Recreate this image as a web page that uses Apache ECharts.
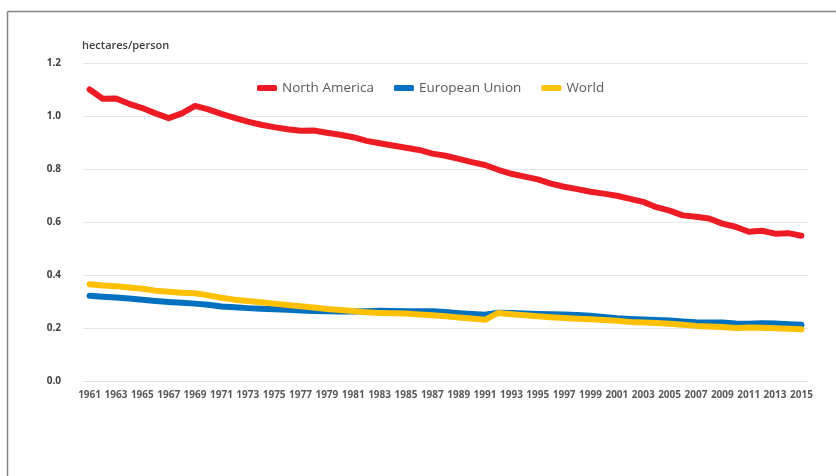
<!DOCTYPE html>
<html>
<head>
<meta charset="utf-8">
<script src="https://cdn.jsdelivr.net/npm/echarts@6/dist/echarts.min.js"></script>
<style>
  html, body { margin: 0; padding: 0; background: #fff; }
  #chart { width: 836px; height: 476px; }
</style>
</head>
<body>
<div id="chart"></div>
<script>
const years = []
for (let y = 1961; y <= 2015; y++) years.push(String(y))

const northAmerica = [
  1.100, 1.065, 1.066, 1.046, 1.030, 1.010, 0.992, 1.010, 1.038, 1.025,
  1.008, 0.993, 0.979, 0.967, 0.958, 0.950, 0.944, 0.945, 0.937, 0.929,
  0.920, 0.906, 0.897, 0.889, 0.880, 0.872, 0.858, 0.850, 0.838, 0.826,
  0.815, 0.797, 0.782, 0.771, 0.761, 0.745, 0.733, 0.724, 0.714, 0.707,
  0.699, 0.687, 0.676, 0.656, 0.643, 0.625, 0.620, 0.613, 0.594, 0.582,
  0.563, 0.567, 0.556, 0.558, 0.548
]

const europeanUnion = [
  0.322, 0.318, 0.315, 0.311, 0.307, 0.302, 0.298, 0.295, 0.292, 0.288,
  0.281, 0.278, 0.275, 0.273, 0.271, 0.269, 0.266, 0.264, 0.263, 0.262,
  0.262, 0.263, 0.265, 0.264, 0.263, 0.263, 0.263, 0.260, 0.256, 0.253,
  0.250, 0.258, 0.257, 0.255, 0.253, 0.252, 0.251, 0.249, 0.246, 0.242,
  0.237, 0.234, 0.232, 0.230, 0.228, 0.225, 0.222, 0.221, 0.221, 0.217,
  0.216, 0.218, 0.217, 0.214, 0.212
]

const world = [
  0.365, 0.360, 0.358, 0.353, 0.348, 0.341, 0.337, 0.333, 0.331, 0.323,
  0.314, 0.307, 0.302, 0.297, 0.292, 0.287, 0.282, 0.277, 0.272, 0.268,
  0.264, 0.259, 0.257, 0.256, 0.255, 0.251, 0.248, 0.244, 0.240, 0.236,
  0.231, 0.257, 0.252, 0.248, 0.244, 0.241, 0.238, 0.235, 0.233, 0.230,
  0.227, 0.223, 0.221, 0.219, 0.216, 0.212, 0.208, 0.206, 0.204, 0.200,
  0.202, 0.201, 0.199, 0.197, 0.195
]

const chart = echarts.init(document.getElementById('chart'))

const font = '"Open Sans", "Liberation Sans", sans-serif'

const lineSeries = (name, data, color) => ({
  name,
  type: 'line',
  data,
  symbol: 'none',
  smooth: false,
  lineStyle: { width: 6, color, cap: 'round', join: 'round' },
  itemStyle: { color },
  emphasis: { disabled: true }
})

const option = {
  animation: false,
  textStyle: { fontFamily: font },
  graphic: [
    {
      type: 'line',
      shape: { x1: 7.5, y1: 11.5, x2: 836, y2: 11.5 },
      style: { stroke: '#858585', lineWidth: 1.5 }
    },
    {
      type: 'line',
      shape: { x1: 7.5, y1: 11.5, x2: 7.5, y2: 476 },
      style: { stroke: '#858585', lineWidth: 1.5 }
    },
    {
      type: 'text',
      left: 82,
      top: 40,
      style: {
        text: 'hectares/person',
        fill: '#404040',
        font: '600 11px ' + font
      }
    }
  ],
  legend: {
    left: 252,
    top: 76,
    icon: 'roundRect',
    itemWidth: 20,
    itemHeight: 6,
    itemGap: 20,
    textStyle: { fontSize: 13.5, color: '#595959', fontFamily: font },
    data: ['North America', 'European Union', 'World']
  },
  grid: {
    left: 83,
    right: 28,
    top: 63,
    bottom: 95,
    containLabel: false
  },
  xAxis: {
    type: 'category',
    data: years,
    boundaryGap: true,
    axisLine: { lineStyle: { color: '#e0e0e0' } },
    axisTick: { show: false },
    axisLabel: {
      interval: 1,
      color: '#595959',
      fontSize: 10,
      fontWeight: 'bold',
      margin: 9,
      fontFamily: font
    }
  },
  yAxis: {
    type: 'value',
    min: 0,
    max: 1.2,
    interval: 0.2,
    axisLine: { show: false },
    axisTick: { show: false },
    axisLabel: {
      color: '#404040',
      fontSize: 10,
      fontWeight: 'bold',
      margin: 22,
      fontFamily: font,
      formatter: v => v.toFixed(1)
    },
    splitLine: { lineStyle: { color: '#e6e6e6', width: 1 } }
  },
  series: [
    lineSeries('North America', northAmerica, '#ED1C24'),
    lineSeries('European Union', europeanUnion, '#0070C0'),
    lineSeries('World', world, '#FFC000')
  ]
}

chart.setOption(option)
</script>
</body>
</html>
